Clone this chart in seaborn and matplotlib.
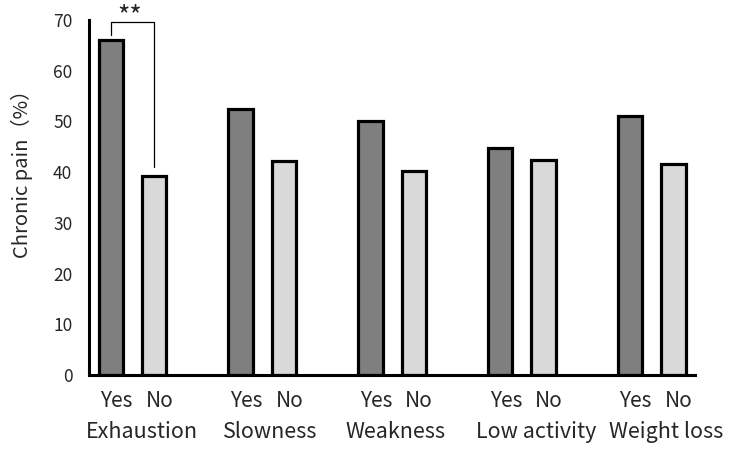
import numpy as np
import pandas as pd
import matplotlib
matplotlib.use("Agg")
import matplotlib.pyplot as plt
import matplotlib.transforms as mtransforms
import seaborn as sns

# data
categories = ["Exhaustion", "Slowness", "Weakness", "Low activity", "Weight loss"]
yes_pct = [66.0, 52.4, 50.0, 44.8, 51.1]
no_pct = [39.3, 42.1, 40.2, 42.4, 41.6]
groups = ["Yes", "No"]
y_ticks = [0, 10, 20, 30, 40, 50, 60, 70]
sig_label = "**"

# layout helpers (not data)
name_shift = [0.21, 0.19, 0.07, 0.32, 0.34]

sns.set_style("white")
plt.rcParams["font.family"] = ["Noto Sans CJK JP", "DejaVu Sans"]

rows = []
order = []
for i, cat in enumerate(categories):
    rows.append({"slot": f"{cat}|Yes", "group": "Yes", "pct": yes_pct[i]})
    rows.append({"slot": f"{cat}|No", "group": "No", "pct": no_pct[i]})
    order += [f"{cat}|Yes", f"{cat}|No"]
    if i < len(categories) - 1:
        order.append(f"gap{i}")
df = pd.DataFrame(rows)

fig = plt.figure(figsize=(7.34, 4.5), dpi=100)
ax = fig.add_axes([0.1213, 0.1667, 0.8256, 0.7889])

sns.barplot(data=df, x="slot", y="pct", hue="group", order=order,
            hue_order=groups, palette={"Yes": "#7f7f7f", "No": "#d9d9d9"},
            dodge=False, width=0.56, edgecolor="black", linewidth=2.3,
            legend=False, ax=ax)

ax.set_xlim(-0.5, len(order) - 0.5)
ax.set_ylim(0, 70)
ax.set_yticks(y_ticks)
ax.tick_params(axis="y", direction="in", length=4, width=2, labelsize=12.5, pad=12)
ax.set_ylabel("Chronic pain（%）", fontsize=14.5)
ax.yaxis.set_label_coords(-0.092, 0.58)
ax.set_xlabel("")

# Yes / No tick labels under each bar
pos = [k for k, s in enumerate(order) if "|" in s]
ax.set_xticks(pos)
ax.set_xticklabels([order[k].split("|")[1] for k in pos], fontsize=15)
ax.tick_params(axis="x", length=0, pad=11)
shift = mtransforms.ScaledTranslation(4 / 72, 0, fig.dpi_scale_trans)
for lab in ax.get_xticklabels():
    lab.set_transform(lab.get_transform() + shift)

# category names on the second row
trans = mtransforms.blended_transform_factory(ax.transData, ax.transAxes)
for i, cat in enumerate(categories):
    ax.text(i * 3 + 0.5 + name_shift[i], -0.13, cat, transform=trans,
            ha="center", va="top", fontsize=15.5)

for side in ["top", "right"]:
    ax.spines[side].set_visible(False)
for side in ["left", "bottom"]:
    ax.spines[side].set_linewidth(2.2)
    ax.spines[side].set_color("black")

# significance bracket between Exhaustion Yes and No
ax.plot([0, 0, 1, 1], [67.1, 69.7, 69.7, 41.0], color="black", lw=0.9,
        clip_on=False)
ax.text(0.45, 70.6, sig_label, ha="center", va="center", fontsize=19,
        clip_on=False)

fig.savefig("out.png", dpi=100, facecolor="white")
